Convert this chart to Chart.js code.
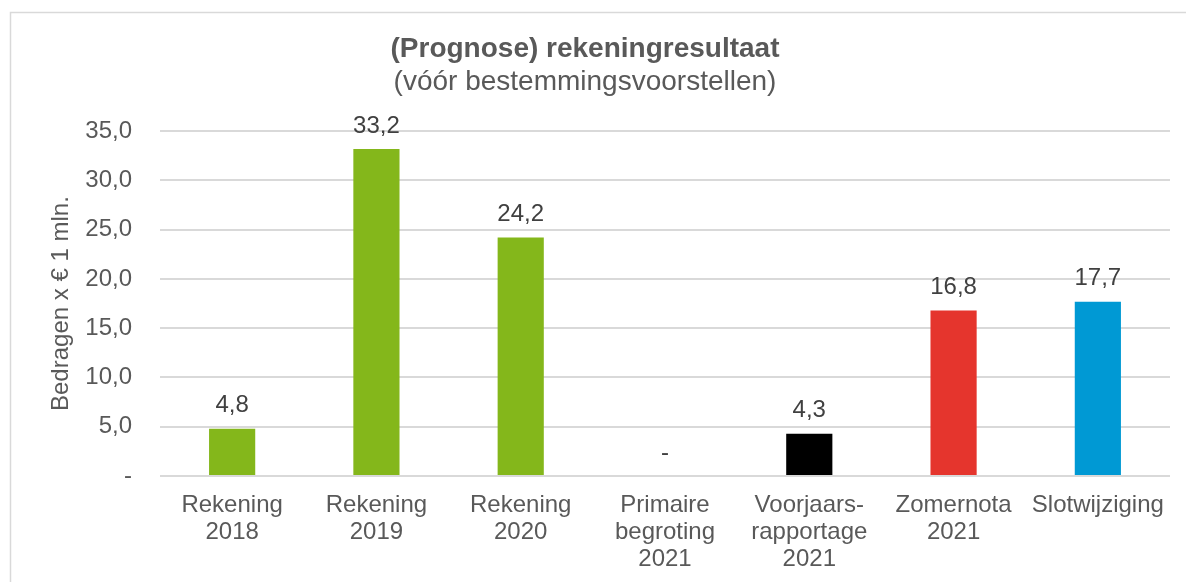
<!DOCTYPE html>
<html lang="nl">
<head>
<meta charset="UTF-8">
<script src="https://cdn.jsdelivr.net/npm/chart.js"></script>
<title>Rekeningresultaat</title>
<style>
  body { margin: 0; background: #fff; }
</style>
</head>
<body>
<canvas id="resultChart" width="1186" height="582"></canvas>
<script>
  // data
  var categories = [
    ['Rekening', '2018'],
    ['Rekening', '2019'],
    ['Rekening', '2020'],
    ['Primaire', 'begroting', '2021'],
    ['Voorjaars-', 'rapportage', '2021'],
    ['Zomernota', '2021'],
    ['Slotwijziging']
  ];
  var amounts = [4.8, 33.2, 24.2, 0, 4.3, 16.8, 17.7];
  var barColors = ['#84b71b', '#84b71b', '#84b71b', '#84b71b', '#000000', '#e5352d', '#0099d4'];
  var yTicks = [0, 5, 10, 15, 20, 25, 30, 35];

  var FONT = "'Liberation Sans', Arial, sans-serif";

  function fmt(v) {
    return v === 0 ? '-' : v.toFixed(1).replace('.', ',');
  }

  // frame around the chart (top + left edge visible)
  var framePlugin = {
    id: 'frame',
    beforeDraw: function(chart) {
      var ctx = chart.ctx;
      ctx.save();
      ctx.fillStyle = '#fff';
      ctx.fillRect(0, 0, chart.width, chart.height);
      ctx.strokeStyle = '#d9d9d9';
      ctx.lineWidth = 1.5;
      ctx.beginPath();
      ctx.moveTo(10.5, chart.height);
      ctx.lineTo(10.5, 12.5);
      ctx.lineTo(chart.width, 12.5);
      ctx.stroke();
      ctx.restore();
    }
  };

  // value labels above the bars
  var valueLabels = {
    id: 'valueLabels',
    afterDatasetsDraw: function(chart) {
      var ctx = chart.ctx;
      var meta = chart.getDatasetMeta(0);
      ctx.save();
      ctx.font = '24px ' + FONT;
      ctx.fillStyle = '#404040';
      ctx.textAlign = 'center';
      ctx.textBaseline = 'middle';
      meta.data.forEach(function(bar, i) {
        ctx.fillText(fmt(amounts[i]), bar.x, bar.y - 23);
      });
      ctx.restore();
    }
  };

  var ctx = document.getElementById('resultChart').getContext('2d');
  new Chart(ctx, {
    type: 'bar',
    data: {
      labels: categories,
      datasets: [{
        data: amounts,
        backgroundColor: barColors,
        categoryPercentage: 1,
        barPercentage: 0.32
      }]
    },
    options: {
      responsive: false,
      animation: false,
      layout: { padding: { left: 0, right: 16, top: 0, bottom: 11 } },
      plugins: {
        legend: { display: false },
        tooltip: { enabled: false },
        title: {
          display: true,
          text: '(Prognose) rekeningresultaat',
          color: '#595959',
          font: { family: FONT, size: 28, weight: 'bold', lineHeight: 1.2 },
          padding: { top: 32, bottom: 0 }
        },
        subtitle: {
          display: true,
          text: '(vóór bestemmingsvoorstellen)',
          color: '#595959',
          font: { family: FONT, size: 28, lineHeight: 1.2 },
          padding: { top: 0, bottom: 32 }
        }
      },
      scales: {
        x: {
          grid: { display: false },
          border: { display: false },
          afterFit: function(scale) { scale.height = 95; },
          ticks: {
            color: '#595959',
            font: { family: FONT, size: 24, lineHeight: 1.125 },
            padding: 8,
            maxRotation: 0,
            autoSkip: false
          }
        },
        y: {
          min: 0,
          max: 35,
          afterFit: function(scale) { scale.width = 160; },
          afterBuildTicks: function(scale) {
            scale.ticks = yTicks.map(function(v) { return { value: v }; });
          },
          grid: { color: '#d9d9d9', lineWidth: 2, drawTicks: false },
          border: { display: false },
          ticks: {
            color: '#595959',
            font: { family: FONT, size: 24 },
            padding: 28,
            callback: function(v) { return fmt(v); }
          },
          title: {
            display: true,
            text: 'Bedragen x € 1 mln.',
            color: '#595959',
            font: { family: FONT, size: 24, lineHeight: 1.2 },
            padding: { top: 47, bottom: 0 }
          }
        }
      }
    },
    plugins: [framePlugin, valueLabels]
  });
</script>
</body>
</html>
